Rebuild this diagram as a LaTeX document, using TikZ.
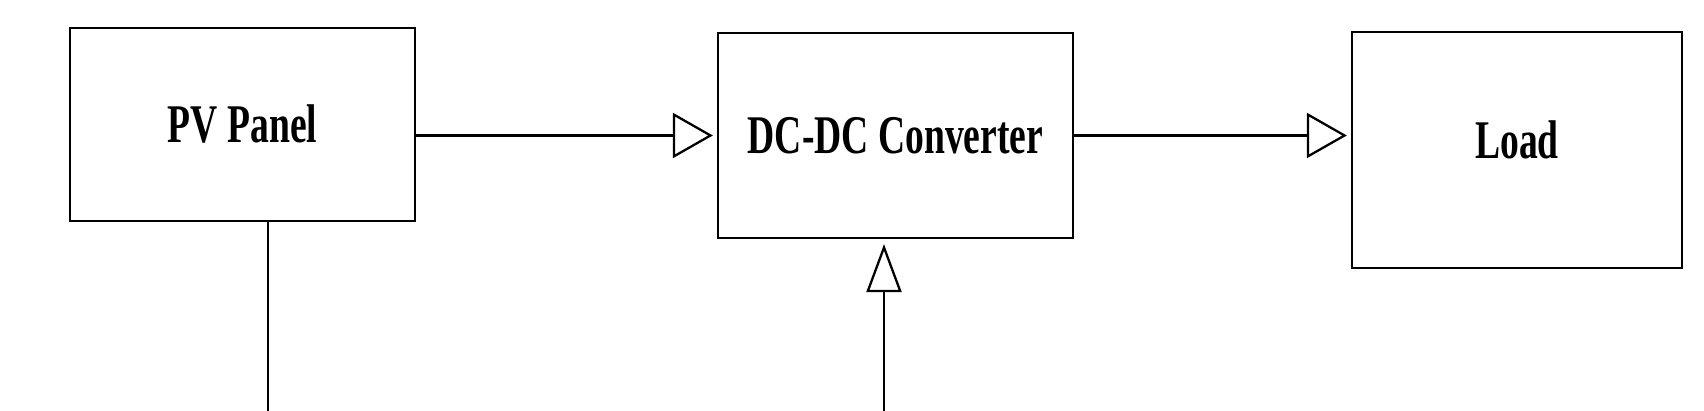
\documentclass[tikz,border=0pt]{standalone}
\usepackage{fontspec}
\setmainfont{Liberation Serif}
\usetikzlibrary{arrows.meta}
\newcommand{\blocktext}[1]{\scalebox{0.69}[1]{\bfseries #1}}
\tikzset{
  block/.style={draw, line width=0.65pt, inner sep=0pt,
    font=\fontsize{15.5}{18}\selectfont},
  flow/.style={line width=0.65pt, shorten >=0.4mm,
    -{Triangle[open, length=4mm, width=4.5mm]}},
  feed/.style={line width=0.65pt, shorten >=0.5mm,
    -{Triangle[open, length=4.8mm, width=3.5mm]}}
}
\begin{document}
\begin{tikzpicture}
\useasboundingbox (0,0) rectangle (17.04,4.11);
\node[block, minimum width=3.45cm, minimum height=1.93cm] (pv) at (2.425,2.865) {\blocktext{PV Panel}};
\node[block, minimum width=3.55cm, minimum height=2.05cm] (conv) at (8.955,2.755) {\blocktext{DC-DC Converter}};
\node[block, minimum width=3.30cm, minimum height=2.36cm] (load) at (15.17,2.61) {\raisebox{2mm}{\blocktext{Load}}};
\coordinate (pvout) at (2.68,0);
\coordinate (ctrl) at (8.84,0);
\draw[flow] (pv.east |- conv.west) -- (conv.west);
\draw[flow] (conv.east) -- (conv.east -| load.west);
\draw[line width=0.65pt] (pvout |- pv.south) -- (pvout);
\draw[feed] (ctrl) -- (ctrl |- conv.south);
\end{tikzpicture}
\end{document}
